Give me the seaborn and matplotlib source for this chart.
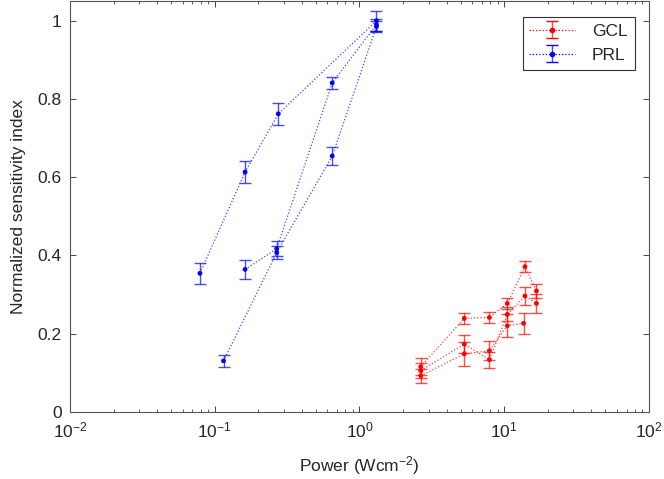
import numpy as np
import pandas as pd
import matplotlib
matplotlib.use("Agg")
import matplotlib.pyplot as plt
import seaborn as sns
from matplotlib.ticker import LogLocator, FixedLocator

# PRL series (blue)
prl_x = [[0.079, 0.162, 0.275, 1.31],
         [0.162, 0.268, 0.648, 1.31],
         [0.115, 0.268, 0.648, 1.31]]
prl_y = [[0.354, 0.613, 0.762, 1.000],
         [0.364, 0.417, 0.841, 0.990],
         [0.130, 0.407, 0.654, 0.985]]
prl_err = [[0.027, 0.028, 0.028, 0.025],
           [0.024, 0.020, 0.016, 0.015],
           [0.015, 0.017, 0.023, 0.015]]

# GCL series (red)
gcl_x = [[2.65, 5.3, 7.9, 10.5, 13.9, 16.7],
         [2.65, 5.3, 7.9, 10.5, 13.9, 16.7],
         [2.65, 5.3, 7.9, 10.5, 13.6]]
gcl_y = [[0.115, 0.239, 0.241, 0.277, 0.371, 0.309],
         [0.105, 0.173, 0.133, 0.249, 0.296, 0.277],
         [0.092, 0.148, 0.156, 0.220, 0.226]]
gcl_err = [[0.022, 0.014, 0.015, 0.015, 0.014, 0.017],
           [0.020, 0.022, 0.020, 0.018, 0.022, 0.025],
           [0.018, 0.030, 0.025, 0.030, 0.027]]

yticks = [0, 0.2, 0.4, 0.6, 0.8, 1]
ytick_labels = ["0", "0.2", "0.4", "0.6", "0.8", "1"]

# Build long table
rows = []
for group, xs, ys, es in [("GCL", gcl_x, gcl_y, gcl_err), ("PRL", prl_x, prl_y, prl_err)]:
    for k, (sx, sy, se) in enumerate(zip(xs, ys, es)):
        for order, (x, y, e) in enumerate(zip(sx, sy, se)):
            rows.append(dict(group=group, series=f"{group}{k}", order=order, x=x, y=y, err=e))
df = pd.DataFrame(rows)

sns.set_style("ticks")
plt.rcParams['font.family'] = ['Liberation Sans', 'DejaVu Sans']
plt.rcParams['mathtext.default'] = 'regular'
plt.rcParams['font.size'] = 11

colors = {"GCL": "#ff0000", "PRL": "#0000ff"}

fig = plt.figure(figsize=(6.64, 4.79), dpi=100)
ax = fig.add_axes([0.1054, 0.1405, 0.872, 0.857])

# Dotted connecting lines (lighter), then dots on top
sns.lineplot(data=df, x="x", y="y", hue="group", units="series", estimator=None,
             sort=False, palette=colors, linestyle=(0, (1, 1.6)), linewidth=0.9,
             alpha=0.75, legend=False, ax=ax)
sns.scatterplot(data=df, x="x", y="y", hue="group", palette=colors, s=12,
                linewidth=0, legend=False, ax=ax, zorder=4)

# Error bars
for (group, series), d in df.groupby(["group", "series"]):
    ax.errorbar(d["x"], d["y"], yerr=d["err"], fmt="none", ecolor=colors[group],
                elinewidth=1.0, capsize=4.5, capthick=1.0, alpha=0.7)

# Legend handles
handles = []
for group in ["GCL", "PRL"]:
    h = ax.errorbar([np.nan], [np.nan], yerr=[0.1], fmt="o", linestyle=(0, (1, 1.6)),
                    color=colors[group], markersize=3, lw=0.9, elinewidth=1.0,
                    capsize=4.5, label=group)
    for art in h.lines[2]:
        art.set_alpha(0.7)
    h.lines[0].set_alpha(1)
    handles.append(h)
leg = ax.legend(handles=handles, loc="upper right", bbox_to_anchor=(0.975, 0.962),
                borderaxespad=0, fancybox=False, framealpha=1, edgecolor="#333333",
                fontsize=12.5, handlelength=2.6, handletextpad=1.0, borderpad=0.4)
leg.get_frame().set_linewidth(0.8)

ax.set_xscale("log")
ax.set_xlim(1e-2, 1e2)
ax.set_ylim(0, 1.05)
ax.xaxis.set_major_locator(LogLocator(base=10, numticks=10))
ax.xaxis.set_minor_locator(LogLocator(base=10, subs=np.arange(2, 10), numticks=20))
ax.yaxis.set_major_locator(FixedLocator(yticks))
ax.set_yticklabels(ytick_labels)

ax.tick_params(which="both", direction="in", top=True, right=True, color="#444444",
               labelsize=12.5, pad=6)
ax.tick_params(which="major", length=4, width=0.7)
ax.tick_params(which="minor", length=2.5, width=0.6)
for s in ax.spines.values():
    s.set_color("#555555")
    s.set_linewidth(0.8)

ax.set_xlabel("Power (Wcm$^{-2}$)", fontsize=12.5, labelpad=10)
ax.set_ylabel("Normalized sensitivity index", fontsize=12.5, labelpad=8)

fig.savefig("out.png", dpi=100)
